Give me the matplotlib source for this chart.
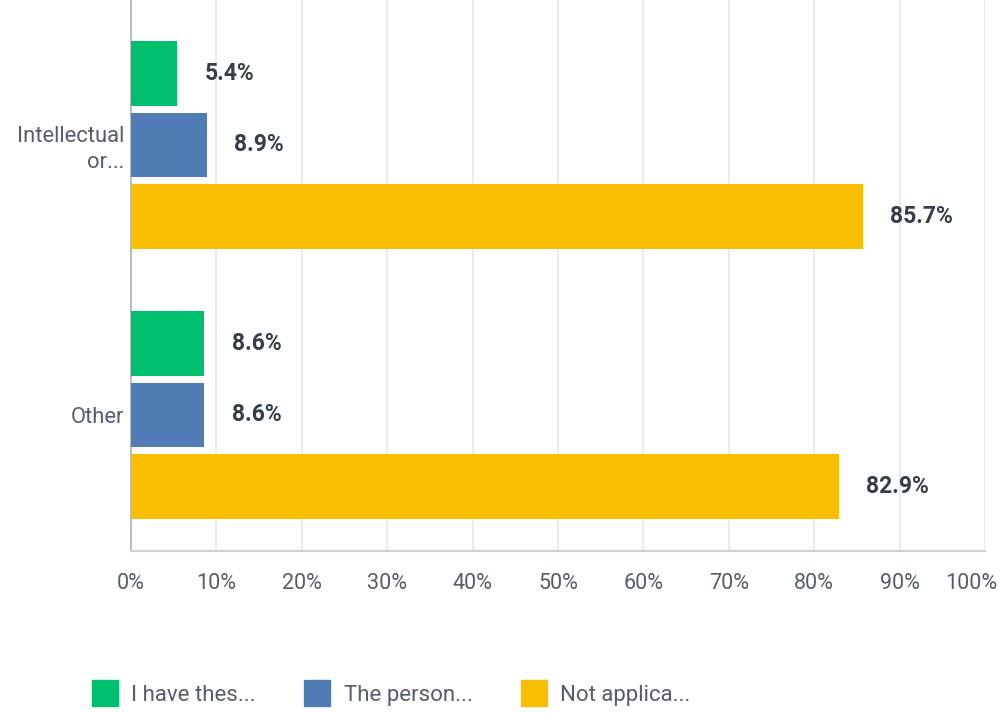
import matplotlib
matplotlib.use('Agg')
import matplotlib.pyplot as plt
import matplotlib.transforms as mtrans
import numpy as np
from matplotlib.lines import Line2D

plt.rcParams['font.family'] = ['Roboto', 'DejaVu Sans']

categories = ['Intellectual\nor...', 'Other']
series = ['I have thes...', 'The person...', 'Not applica...']
have = [5.4, 8.6]
person = [8.9, 8.6]
not_appl = [85.7, 82.9]
colors = ['#00BF6F', '#507CB6', '#F9BE00']
xticks = [0, 10, 20, 30, 40, 50, 60, 70, 80, 90, 100]

fig = plt.figure(figsize=(10.05, 7.13), dpi=100)
ax = fig.add_axes([131/1005, 1 - 551/713, 854/1005, 551/713])

pos = np.arange(len(categories))
offs = [-0.265, 0.0, 0.265]
h = 0.24
for vals, off, col in zip([have, person, not_appl], offs, colors):
    ax.barh(pos + off, vals, height=h, color=col, zorder=3)
    for p, v in zip(pos, vals):
        ax.text(v + 3.2, p + off, '%.1f%%' % v, va='center', ha='left',
                fontsize=16.5, fontweight='bold', color='#333E48')

ax.set_xlim(0, 100)
ax.set_ylim(1.504, -0.537)
ax.set_xticks(xticks)
ax.set_xticklabels(['%d%%' % t for t in xticks], fontsize=15.5, color='#545E6B')
ax.set_yticks(pos)
ax.set_yticklabels(categories, fontsize=15.8, color='#545E6B', ha='right',
                   linespacing=1.3)
ax.tick_params(axis='both', length=0)
ax.tick_params(axis='x', pad=16)
ax.tick_params(axis='y', pad=5)
ax.grid(axis='x', color='#E8E8E8', linewidth=1.2, zorder=0)
for s in ['top', 'right']:
    ax.spines[s].set_visible(False)
ax.spines['left'].set_color('#BDBDBD')
ax.spines['bottom'].set_color('#D0D0D0')
ax.spines['left'].set_linewidth(1.5)
ax.spines['bottom'].set_linewidth(1.5)

# keep the last tick label inside the figure
last = ax.get_xticklabels()[-1]
last.set_transform(last.get_transform() +
                   mtrans.ScaledTranslation(-10/72, 0, fig.dpi_scale_trans))

handles = [Line2D([], [], marker='s', linestyle='', markersize=19,
                  markerfacecolor=c, markeredgecolor=c) for c in colors]
fig.legend(handles, series, loc='center left', bbox_to_anchor=(0.091, 0.025),
           ncol=3, frameon=False, fontsize=16, labelcolor='#545E6B',
           handletextpad=0.6, columnspacing=2.15, handlelength=1.2,
           borderpad=0, borderaxespad=0)

fig.savefig('out.png', dpi=100)
